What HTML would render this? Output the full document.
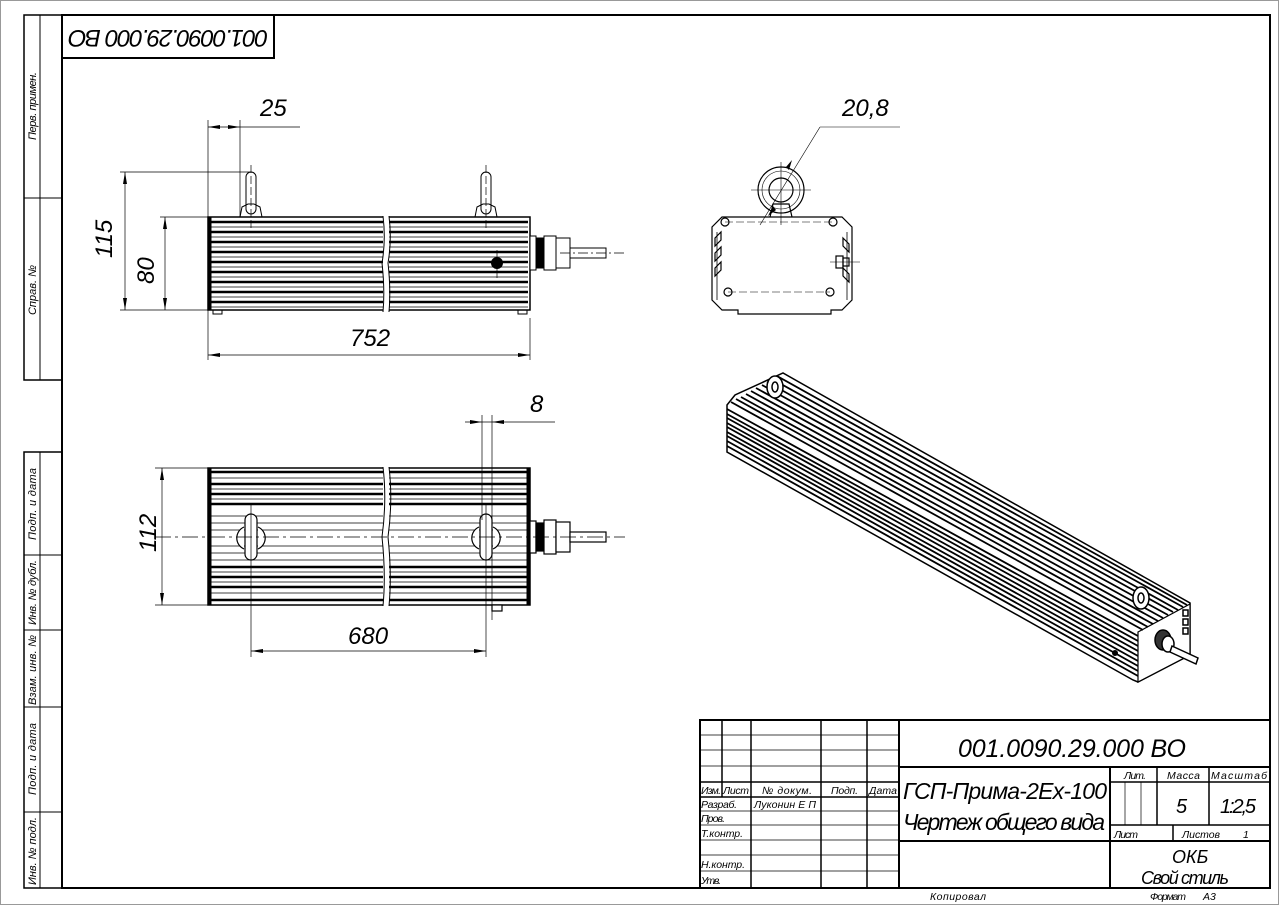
<!DOCTYPE html>
<html><head><meta charset="utf-8"><style>
html,body{margin:0;padding:0;background:#fff}
svg{display:block}
text{font-family:"Liberation Sans","DejaVu Sans",sans-serif;font-style:italic;fill:#000}
</style></head><body>
<svg width="1279" height="905" viewBox="0 0 1279 905" xmlns="http://www.w3.org/2000/svg">
<rect x="0.5" y="0.5" width="1278" height="904" fill="#fff" stroke="#999" stroke-width="1"/>
<rect x="62" y="15" width="1208" height="873" fill="none" stroke="#000" stroke-width="2"/>
<g stroke="#000" fill="none">
<rect x="24" y="15" width="38" height="365" stroke-width="1.5"/>
<line x1="40" y1="15" x2="40" y2="380"/>
<line x1="24" y1="198" x2="62" y2="198"/>
<rect x="24" y="452" width="38" height="436" stroke-width="1.5"/>
<line x1="40" y1="452" x2="40" y2="888"/>
<line x1="24" y1="555" x2="62" y2="555"/>
<line x1="24" y1="630" x2="62" y2="630"/>
<line x1="24" y1="707" x2="62" y2="707"/>
<line x1="24" y1="812" x2="62" y2="812"/>
</g>
<g font-size="11">
<text transform="translate(36,140) rotate(-90)" textLength="68">Перв. примен.</text>
<text transform="translate(36,315) rotate(-90)" textLength="50">Справ. №</text>
<text transform="translate(36,540) rotate(-90)" textLength="72">Подп. и дата</text>
<text transform="translate(36,625) rotate(-90)" textLength="65">Инв. № дубл.</text>
<text transform="translate(36,705) rotate(-90)" textLength="70">Взам. инв. №</text>
<text transform="translate(36,795) rotate(-90)" textLength="72">Подп. и дата</text>
<text transform="translate(36,885) rotate(-90)" textLength="68">Инв. № подл.</text>
</g>
<path d="M62 58 H274 V15" fill="none" stroke="#000" stroke-width="2"/>
<text transform="translate(268,30) rotate(180)" font-size="24" textLength="200">001.0090.29.000 ВО</text>

<!-- SIDE VIEW -->
<g stroke="#000" fill="none" stroke-width="1">
<rect x="246" y="172" width="10" height="42" rx="5" fill="#fff"/>
<path d="M240 217 L242 207 L248 204 L254 204 L260 207 L262 217"/>
<rect x="481" y="172" width="10" height="42" rx="5" fill="#fff"/>
<path d="M475 217 L477 207 L483 204 L489 204 L495 207 L497 217"/>
<rect x="208" y="217" width="322" height="93" stroke-width="1.5"/>
<rect x="208" y="217" width="3" height="93" fill="#000"/>
<path d="M213 310 V314 H222 V310 M518 310 V314 H527 V310"/>
</g>
<g stroke="#000" stroke-width="2.5">
<line x1="211" y1="222" x2="528" y2="222"/><line x1="211" y1="232" x2="528" y2="232"/>
<line x1="211" y1="242" x2="528" y2="242"/><line x1="211" y1="252" x2="528" y2="252"/>
<line x1="211" y1="262" x2="528" y2="262"/><line x1="211" y1="272" x2="528" y2="272"/>
<line x1="211" y1="282" x2="528" y2="282"/><line x1="211" y1="292" x2="528" y2="292"/>
<line x1="211" y1="302" x2="528" y2="302"/>
</g>
<g stroke="#000" stroke-width="0.8">
<line x1="211" y1="227" x2="528" y2="227"/><line x1="211" y1="237" x2="528" y2="237"/>
<line x1="211" y1="247" x2="528" y2="247"/><line x1="211" y1="257" x2="528" y2="257"/>
<line x1="211" y1="267" x2="528" y2="267"/><line x1="211" y1="277" x2="528" y2="277"/>
<line x1="211" y1="287" x2="528" y2="287"/><line x1="211" y1="297" x2="528" y2="297"/>
<line x1="211" y1="307" x2="528" y2="307"/>
</g>
<rect x="383" y="214" width="6" height="100" fill="#fff"/>
<path d="M383 216 Q386 240 382 263 Q385 290 383 312 M389 216 Q392 240 388 263 Q391 290 389 312" stroke="#000" fill="none"/>
<circle cx="497" cy="263" r="6" fill="#000"/>
<g stroke="#000" fill="#fff" stroke-width="1">
<rect x="530" y="236" width="6" height="34"/>
<rect x="536" y="238" width="8" height="30" fill="#000"/>
<rect x="544" y="236" width="12" height="34"/>
<rect x="556" y="238" width="14" height="30"/>
<rect x="570" y="248" width="36" height="10"/>
</g>
<g stroke="#000" stroke-width="0.7" fill="none">
<line x1="120" y1="172" x2="251" y2="172"/><line x1="120" y1="310" x2="208" y2="310"/>
<line x1="125" y1="172" x2="125" y2="310"/>
<line x1="160" y1="217" x2="208" y2="217"/><line x1="165" y1="217" x2="165" y2="310"/>
<line x1="208" y1="120" x2="208" y2="360"/><line x1="530" y1="318" x2="530" y2="360"/>
<line x1="208" y1="355" x2="530" y2="355"/>
<line x1="240" y1="120" x2="240" y2="217"/>
<line x1="208" y1="127" x2="300" y2="127"/>
<line x1="251" y1="165" x2="251" y2="228" stroke-dasharray="8 3"/>
<line x1="486" y1="165" x2="486" y2="228" stroke-dasharray="8 3"/>
<line x1="497" y1="250" x2="497" y2="278"/>
<line x1="560" y1="253" x2="625" y2="253" stroke-dasharray="10 3 2 3"/>
</g>
<g fill="#000">
<path d="M125 172 l-2 12 h4z M125 310 l-2 -12 h4z M165 217 l-2 12 h4z M165 310 l-2 -12 h4z"/>
<path d="M208 355 l12 -2 v4z M530 355 l-12 -2 v4z M240 127 l-12 -2 v4z M208 127 l12 -2 v4z"/>
</g>
<text transform="translate(112,258) rotate(-90)" font-size="24">115</text>
<text transform="translate(154,284) rotate(-90)" font-size="24">80</text>
<text x="350" y="346" font-size="24">752</text>
<text x="260" y="116" font-size="24">25</text>

<!-- BOTTOM VIEW -->
<g stroke="#000" fill="none">
<rect x="208" y="468" width="322" height="137" stroke-width="1.5"/>
<rect x="208" y="468" width="3" height="137" fill="#000"/>
<rect x="527" y="468" width="3" height="137" fill="#000"/>
</g>
<g stroke="#000" stroke-width="2.5">
<line x1="211" y1="472" x2="527" y2="472"/><line x1="211" y1="484" x2="527" y2="484"/>
<line x1="211" y1="494" x2="527" y2="494"/><line x1="211" y1="504" x2="527" y2="504"/>
<line x1="211" y1="567" x2="527" y2="567"/><line x1="211" y1="577" x2="527" y2="577"/>
<line x1="211" y1="587" x2="527" y2="587"/><line x1="211" y1="600" x2="527" y2="600"/>
</g>
<g stroke="#000" stroke-width="0.8">
<line x1="211" y1="478" x2="527" y2="478"/><line x1="211" y1="489" x2="527" y2="489"/>
<line x1="211" y1="499" x2="527" y2="499"/><line x1="211" y1="516" x2="527" y2="516"/>
<line x1="211" y1="523" x2="527" y2="523"/><line x1="211" y1="530" x2="527" y2="530"/>
<line x1="211" y1="546" x2="527" y2="546"/><line x1="211" y1="553" x2="527" y2="553"/>
<line x1="211" y1="560" x2="527" y2="560"/><line x1="211" y1="572" x2="527" y2="572"/>
<line x1="211" y1="582" x2="527" y2="582"/><line x1="211" y1="593" x2="527" y2="593"/>
</g>
<rect x="383" y="465" width="6" height="143" fill="#fff"/>
<path d="M383 467 Q387 500 382 537 Q386 575 383 606 M389 467 Q393 500 388 537 Q392 575 389 606" stroke="#000" fill="none"/>
<g stroke="#000" fill="#fff" stroke-width="1.2">
<path d="M244 527 A12 12 0 0 0 244 549 M258 527 A12 12 0 0 1 258 549"/>
<rect x="245" y="514" width="12" height="46" rx="6"/>
<path d="M479 527 A12 12 0 0 0 479 549 M493 527 A12 12 0 0 1 493 549"/>
<rect x="480" y="514" width="12" height="46" rx="6"/>
<rect x="530" y="521" width="6" height="32"/>
<rect x="536" y="523" width="8" height="28" fill="#000"/>
<rect x="544" y="520" width="12" height="34"/>
<rect x="556" y="522" width="14" height="30"/>
<rect x="570" y="532" width="36" height="10"/>
<rect x="492" y="605" width="10" height="6"/>
</g>
<g stroke="#000" stroke-width="0.7" fill="none">
<line x1="155" y1="537" x2="625" y2="537" stroke-dasharray="16 4 3 4"/>
<line x1="155" y1="468" x2="208" y2="468"/><line x1="155" y1="605" x2="208" y2="605"/>
<line x1="162" y1="468" x2="162" y2="605"/>
<line x1="251" y1="505" x2="251" y2="657"/><line x1="486" y1="505" x2="486" y2="657"/>
<line x1="251" y1="651" x2="486" y2="651"/>
<line x1="482" y1="415" x2="482" y2="520"/><line x1="492" y1="415" x2="492" y2="620"/>
<line x1="465" y1="422" x2="555" y2="422"/>
</g>
<g fill="#000">
<path d="M162 468 l-2 12 h4z M162 605 l-2 -12 h4z M251 651 l12 -2 v4z M486 651 l-12 -2 v4z"/>
<path d="M482 422 l-12 -2 v4z M492 422 l12 -2 v4z"/>
</g>
<text transform="translate(156,552) rotate(-90)" font-size="24">112</text>
<text x="348" y="644" font-size="24">680</text>
<text x="530" y="412" font-size="24">8</text>

<!-- END VIEW -->
<g stroke="#000" fill="none" stroke-width="1.2">
<circle cx="781" cy="190" r="23"/><circle cx="781" cy="190" r="19" stroke-width="0.6"/>
<circle cx="781" cy="190" r="12"/>
<path d="M770 217 L773 204 L789 204 L792 217"/>
<path d="M722 217 H842 L852 227 V300 L842 310 H831 V314 H738 V310 H722 L712 300 V227 Z"/>
<path d="M717 232 V300 M847 232 V300" stroke-width="0.8"/>
<path d="M715 238 l6 -6 v8 l-6 6z M715 253 l6 -6 v8 l-6 6z M715 268 l6 -6 v8 l-6 6z M843 238 l6 6 v8 l-6 -6z M843 268 l6 6 v8 l-6 -6z"/>
<rect x="836" y="256" width="7" height="12"/><rect x="843" y="258" width="6" height="8"/>
<circle cx="725" cy="222" r="4"/><circle cx="833" cy="222" r="4"/>
<circle cx="728" cy="292" r="4"/><circle cx="830" cy="292" r="4"/>
</g>
<g stroke="#000" stroke-width="0.6" fill="none">
<path d="M725 222 H833 M728 292 H830" stroke-dasharray="8 3"/>
<line x1="751" y1="190" x2="811" y2="190"/><line x1="781" y1="162" x2="781" y2="225"/>
<line x1="830" y1="262" x2="860" y2="262"/>
<line x1="760" y1="225" x2="820" y2="127"/><line x1="820" y1="127" x2="900" y2="127"/>
</g>
<path d="M773 206 l-5 10 l8 -6z M789 170 l3 -10 l-6 7z" fill="#000"/>
<text x="842" y="116" font-size="24">20,8</text>

<!-- ISO VIEW -->
<g stroke="#000" fill="#fff" stroke-width="1.5">
<path d="M727 405 L735 395 L783 373 L1190 603 L1190 655 L1138 682 L1133 680 L727 452 Z"/>
<path d="M1138 632 L1190 604 L1190 655 L1138 682 Z" stroke-width="1.2"/>
</g>
<g stroke="#000" stroke-width="1.8">
<line x1="727" y1="409" x2="1138" y2="636"/><line x1="727" y1="414" x2="1138" y2="641"/>
<line x1="727" y1="418" x2="1138" y2="646"/><line x1="727" y1="423" x2="1138" y2="651"/>
<line x1="727" y1="427" x2="1138" y2="656"/><line x1="727" y1="432" x2="1138" y2="661"/>
<line x1="727" y1="436" x2="1138" y2="666"/><line x1="727" y1="441" x2="1138" y2="671"/>
<line x1="727" y1="446" x2="1138" y2="676"/>
<line x1="731" y1="402" x2="1143" y2="630"/><line x1="736" y1="399" x2="1148" y2="627"/>
<line x1="741" y1="397" x2="1153" y2="624"/><line x1="746" y1="394" x2="1158" y2="621"/>
<line x1="751" y1="391" x2="1163" y2="618"/><line x1="756" y1="388" x2="1168" y2="615"/>
<line x1="762" y1="385" x2="1173" y2="612"/><line x1="767" y1="382" x2="1178" y2="610"/>
<line x1="772" y1="379" x2="1183" y2="607"/><line x1="777" y1="376" x2="1187" y2="605"/>
</g>
<g stroke="#000" fill="#fff" stroke-width="1.5">
<ellipse cx="775" cy="387" rx="8" ry="11"/><ellipse cx="775" cy="387" rx="3" ry="5"/>
<ellipse cx="1141" cy="598" rx="8" ry="11"/><ellipse cx="1141" cy="598" rx="3" ry="5"/>
<ellipse cx="1163" cy="640" rx="8" ry="10" fill="#333"/>
<ellipse cx="1168" cy="644" rx="6" ry="8"/>
<path d="M1172 646 L1198 658 L1196 664 L1170 652 Z"/>
<rect x="1183" y="610" width="5" height="6"/><rect x="1183" y="619" width="5" height="6"/><rect x="1183" y="628" width="5" height="6"/>
</g>
<circle cx="1115" cy="653" r="3" fill="#000"/>

<!-- TITLE BLOCK -->
<g stroke="#000" fill="none" stroke-width="1">
<rect x="700" y="720" width="570" height="168" stroke-width="2"/>
<line x1="722" y1="720" x2="722" y2="797" stroke-width="1.5"/>
<line x1="751" y1="720" x2="751" y2="888" stroke-width="1.5"/>
<line x1="821" y1="720" x2="821" y2="888" stroke-width="1.5"/>
<line x1="867" y1="720" x2="867" y2="888" stroke-width="1.5"/>
<line x1="899" y1="720" x2="899" y2="888" stroke-width="2"/>
<line x1="700" y1="735" x2="899" y2="735" stroke-width="0.7"/>
<line x1="700" y1="750" x2="899" y2="750" stroke-width="0.7"/>
<line x1="700" y1="766" x2="899" y2="766" stroke-width="0.7"/>
<line x1="700" y1="782" x2="899" y2="782" stroke-width="1.5"/>
<line x1="700" y1="797" x2="899" y2="797" stroke-width="1.5"/>
<line x1="700" y1="811" x2="899" y2="811" stroke-width="0.7"/>
<line x1="700" y1="825" x2="899" y2="825" stroke-width="0.7"/>
<line x1="700" y1="840" x2="899" y2="840" stroke-width="0.7"/>
<line x1="700" y1="855" x2="899" y2="855" stroke-width="0.7"/>
<line x1="700" y1="871" x2="899" y2="871" stroke-width="0.7"/>
<line x1="899" y1="767" x2="1270" y2="767" stroke-width="2"/>
<line x1="899" y1="841" x2="1270" y2="841" stroke-width="2"/>
<line x1="1110" y1="767" x2="1110" y2="888" stroke-width="2"/>
<line x1="1110" y1="782" x2="1270" y2="782" stroke-width="1.5"/>
<line x1="1110" y1="825" x2="1270" y2="825" stroke-width="1.5"/>
<line x1="1157" y1="767" x2="1157" y2="825" stroke-width="1.5"/>
<line x1="1209" y1="767" x2="1209" y2="825" stroke-width="1.5"/>
<line x1="1125" y1="782" x2="1125" y2="825" stroke-width="0.7"/>
<line x1="1141" y1="782" x2="1141" y2="825" stroke-width="0.7"/>
<line x1="1173" y1="825" x2="1173" y2="841" stroke-width="1.5"/>
</g>
<g font-size="10.5">
<text x="701" y="794" textLength="20">Изм.</text><text x="723" y="794" textLength="26">Лист</text>
<text x="762" y="794" textLength="50">№ докум.</text><text x="831" y="794" textLength="27">Подп.</text>
<text x="869" y="794" textLength="28">Дата</text>
<text x="701" y="808" textLength="36">Разраб.</text><text x="754" y="808" textLength="62">Луконин Е П</text>
<text x="701" y="822" textLength="24">Пров.</text>
<text x="701" y="837" textLength="42">Т.контр.</text>
<text x="701" y="868" textLength="44">Н.контр.</text>
<text x="701" y="884" textLength="20">Утв.</text>
<text x="1124" y="779" textLength="22">Лит.</text>
<text x="1167" y="779" textLength="33">Масса</text>
<text x="1211" y="779" textLength="56">Масштаб</text>
<text x="1114" y="838" textLength="24">Лист</text>
<text x="1182" y="838" textLength="38">Листов</text><text x="1243" y="838">1</text>
<text x="930" y="900" textLength="56">Копировал</text>
<text x="1150" y="900" textLength="36">Формат</text><text x="1203" y="900">А3</text>
</g>
<text x="958" y="757" font-size="25" textLength="228">001.0090.29.000 ВО</text>
<text x="903" y="799" font-size="23" textLength="204">ГСП-Прима-2Ех-100</text>
<text x="903" y="830" font-size="23" textLength="202">Чертеж общего вида</text>
<text x="1176" y="813" font-size="20">5</text>
<text x="1220" y="813" font-size="20" textLength="36">1:2,5</text>
<text x="1172" y="863" font-size="18">ОКБ</text>
<text x="1141" y="884" font-size="18" textLength="88">Свой стиль</text>
</svg>
</body></html>
